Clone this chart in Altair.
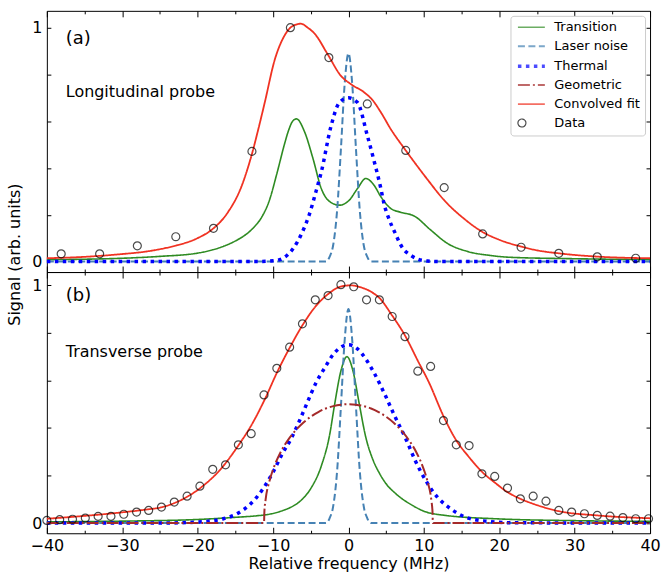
import altair as alt
import pandas as pd

# ---------------- series / styles ----------------
SERIES = ["Transition", "Laser noise", "Thermal", "Geometric", "Convolved fit", "Data"]
COLORS = ["#2e8b22", "#4682b4", "#0000ff", "#a52a2a", "#f03222", "#000000"]
DASHES = [[1, 0], [7, 3.5], [3.5, 4.5], [12, 3, 2, 3], [1, 0], [1, 0]]
WIDTHS = [1.6, 2.0, 3.5, 2.0, 1.8, 1.2]
SHAPES = ["M-1,0H5.75"] * 5 + ["circle"]

X_MAJOR = [-40, -30, -20, -10, 0, 10, 20, 30, 40]
X_MINOR = [-35, -25, -15, -5, 5, 15, 25, 35]
Y_TICKS = [0, 0.2, 0.4, 0.6, 0.8, 1.0]
Y_LABELS = [0, 1]

PANEL_TAGS = ["(a)", "(b)"]
PANEL_NAMES = ["Longitudinal probe", "Transverse probe"]
X_TITLE = "Relative frequency (MHz)"
Y_TITLE = "Signal (arb. units)"

# ---------------- panel (a): longitudinal probe ----------------
TOP_DATA_X = [-38.1, -33.0, -28.0, -22.9, -17.9, -12.8, -7.7, -2.6, 2.5, 7.6,
              12.7, 17.8, 22.9, 27.9, 33.0, 38.1]
TOP_DATA_Y = [0.033, 0.033, 0.067, 0.106, 0.142, 0.471, 1.0, 0.872, 0.674, 0.475,
              0.316, 0.118, 0.061, 0.035, 0.02, 0.014]

TOP_FIT_X = [-40, -35, -30, -27, -24.8, -22.9, -20, -17.9, -16, -14.2, -12.8, -12.0,
             -11.1, -9.8, -8.5, -7.5, -6.3, -5.4, -4.5, -2.75, -1.0, 0.3, 2.1, 3.2,
             4.3, 5.6, 7.6, 9.2, 10.5, 12.7, 15.3, 17.7, 20.0, 22.9, 25, 27.9, 33, 40]
TOP_FIT_Y = [0.014, 0.02, 0.032, 0.042, 0.054, 0.068, 0.1, 0.142, 0.21, 0.32, 0.46, 0.56,
             0.68, 0.86, 0.965, 1.005, 1.017, 1.0, 0.975, 0.886, 0.794, 0.759, 0.723, 0.69,
             0.638, 0.567, 0.475, 0.405, 0.35, 0.262, 0.184, 0.128, 0.093, 0.064, 0.048,
             0.035, 0.021, 0.014]

TOP_TR_X = [-40, -30, -25, -20, -18, -16.5, -14.6, -13.5, -12.5, -11.5, -10.5, -9.5,
            -8.5, -8.0, -7.4, -6.9, -5.8, -4.7, -3.6, -2.3, -1.2, 0.1, 1.2, 2.3, 3.4, 4.3,
            5.6, 6.9, 8.7, 10.9, 13.1, 15.8, 18.8, 21.5, 30, 40]
TOP_TR_Y = [0.008, 0.014, 0.022, 0.036, 0.05, 0.066, 0.095, 0.118, 0.148, 0.19, 0.26, 0.375,
            0.5, 0.555, 0.6, 0.61, 0.553, 0.44, 0.312, 0.252, 0.241, 0.262, 0.312, 0.355,
            0.326, 0.277, 0.227, 0.211, 0.195, 0.135, 0.078, 0.043, 0.026, 0.018, 0.012,
            0.008]

TOP_LN_X = [-40, -3, -2.5, -2, -1.5, -1, -0.5, 0, 0.5, 1, 1.5, 2, 2.5, 3, 40]
TOP_LN_Y = [0, 0, 0.02, 0.075, 0.22, 0.48, 0.76, 0.89, 0.76, 0.48, 0.22, 0.075, 0.02, 0, 0]

TOP_TH_X = [-40, -12, -10, -9.1, -8.1, -7.3, -6.2, -5.2, -4.3, -3.6, -2.3, -1.2, 0, 1.2,
            2.5, 3.4, 4.3, 4.7, 5.4, 6.1, 7.2, 8.3, 9.2, 10.5, 12, 40]
TOP_TH_Y = [0, 0, 0.003, 0.008, 0.028, 0.057, 0.12, 0.2, 0.3, 0.383, 0.58, 0.68, 0.70, 0.68,
            0.539, 0.43, 0.312, 0.25, 0.18, 0.128, 0.057, 0.026, 0.01, 0.002, 0, 0]

# ---------------- panel (b): transverse probe ----------------
BOT_DATA_X = [-40.0, -38.3, -36.6, -34.9, -33.2, -31.5, -29.8, -28.1, -26.5, -24.8,
              -23.1, -21.4, -19.7, -18.0, -16.3, -14.6, -12.9, -11.2, -9.5, -7.8,
              -6.1, -4.4, -2.7, -1.0, 0.7, 2.4, 4.1, 5.8, 7.5, 9.2,
              10.9, 12.6, 14.3, 16.0, 17.7, 19.4, 21.1, 22.8, 24.5, 26.2,
              27.9, 29.6, 31.3, 33.0, 34.7, 36.4, 38.1, 39.8]
BOT_DATA_Y = [0.011, 0.014, 0.016, 0.021, 0.028, 0.028, 0.037, 0.046, 0.053, 0.067,
              0.088, 0.113, 0.155, 0.226, 0.245, 0.329, 0.376, 0.539, 0.651, 0.74,
              0.838, 0.939, 0.957, 1.003, 0.994, 0.939, 0.939, 0.869, 0.784, 0.639,
              0.659, 0.431, 0.329, 0.326, 0.207, 0.196, 0.147, 0.102, 0.113, 0.092,
              0.053, 0.046, 0.039, 0.032, 0.029, 0.023, 0.018, 0.018]

BOT_FIT_X = [-40, -35, -30, -27, -24.7, -22, -19.5, -17, -14.5, -12.9, -11.1, -9.45, -7.8,
             -6.06, -4.4, -2.75, -1.0, 0.3, 1.5, 3.0, 4.1, 5.8, 7.5, 9.15, 10.7, 12.6, 14.2,
             16.0, 17.7, 19.5, 21.1, 22.8, 24.5, 27.9, 33, 40]
BOT_FIT_Y = [0.018, 0.03, 0.045, 0.056, 0.067, 0.1, 0.151, 0.225, 0.331, 0.41, 0.52, 0.635,
             0.737, 0.834, 0.91, 0.962, 0.995, 1.0, 0.993, 0.973, 0.947, 0.873, 0.789, 0.686,
             0.59, 0.45, 0.353, 0.277, 0.216, 0.168, 0.13, 0.102, 0.081, 0.05, 0.032, 0.02]

BOT_TR_X = [-40, -30, -20, -15, -12, -10.7, -8.5, -7.6, -6.3, -5, -3.6, -2.5, -1.88, -1.0,
            -0.2, 0.6, 1.43, 2.3, 3.2, 4.1, 5.0, 6.3, 8.5, 10, 12.9, 19.5, 30, 40]
BOT_TR_Y = [0.005, 0.008, 0.015, 0.024, 0.031, 0.036, 0.055, 0.067, 0.095, 0.145, 0.24, 0.37,
            0.49, 0.64, 0.70, 0.64, 0.502, 0.361, 0.27, 0.21, 0.165, 0.123, 0.074, 0.05,
            0.032, 0.018, 0.01, 0.007]

BOT_LN_X = [-40, -3, -2.5, -2, -1.5, -1, -0.5, 0, 0.5, 1, 1.5, 2, 2.5, 3, 40]
BOT_LN_Y = [0, 0, 0.02, 0.075, 0.22, 0.49, 0.77, 0.90, 0.77, 0.49, 0.22, 0.075, 0.02, 0, 0]

BOT_TH_X = [-40, -25, -20, -18, -16.6, -14.6, -13, -12.2, -11, -10, -8.8, -7.6, -6.5, -5.5,
            -4.3, -3.2, -2, -1, 0, 1.2, 2.3, 3.4, 4.96, 6.06, 7.6, 8.9, 10.25, 11.8, 13.55,
            15.5, 18.2, 22, 40]
BOT_TH_Y = [0, 0, 0.004, 0.01, 0.018, 0.042, 0.08, 0.107, 0.16, 0.214, 0.29, 0.355, 0.43,
            0.504, 0.59, 0.65, 0.71, 0.74, 0.75, 0.733, 0.69, 0.632, 0.532, 0.455, 0.355,
            0.26, 0.179, 0.109, 0.06, 0.025, 0.008, 0.001, 0]

BOT_GE_X = [-40, -11.2, -11.15, -11.0, -10.5, -10, -9, -8, -7, -6, -5, -4, -3, -2, -1, 0,
            1, 2, 3, 4, 5, 6, 7, 8, 9, 10, 10.5, 11.0, 11.15, 11.2, 40]
BOT_GE_Y = [0, 0, 0.047, 0.095, 0.174, 0.225, 0.298, 0.35, 0.39, 0.422, 0.447, 0.467, 0.482,
            0.492, 0.498, 0.5, 0.498, 0.492, 0.482, 0.467, 0.447, 0.422, 0.39, 0.35, 0.298,
            0.225, 0.174, 0.095, 0.047, 0, 0]

TOP_YDOM = [-0.045, 1.072]
BOT_YDOM = [-0.043, 1.056]


def frame(*triples):
    rows = []
    for name, xs, ys in triples:
        for x, y in zip(xs, ys):
            rows.append({"series": name, "x": x, "y": y})
    return pd.DataFrame(rows)


top_lines = frame(("Transition", TOP_TR_X, TOP_TR_Y), ("Laser noise", TOP_LN_X, TOP_LN_Y),
                  ("Thermal", TOP_TH_X, TOP_TH_Y), ("Convolved fit", TOP_FIT_X, TOP_FIT_Y))
top_pts = frame(("Data", TOP_DATA_X, TOP_DATA_Y))
bot_lines = frame(("Transition", BOT_TR_X, BOT_TR_Y), ("Laser noise", BOT_LN_X, BOT_LN_Y),
                  ("Thermal", BOT_TH_X, BOT_TH_Y), ("Geometric", BOT_GE_X, BOT_GE_Y),
                  ("Convolved fit", BOT_FIT_X, BOT_FIT_Y))
bot_pts = frame(("Data", BOT_DATA_X, BOT_DATA_Y))

W, H = 605, 262
FONT = "DejaVu Sans"

LEG = dict(orient="top-right", offset=5, title=None, symbolSize=64, labelOffset=26,
           labelFontSize=13, labelFont=FONT, labelColor="black", rowPadding=5, padding=5,
           cornerRadius=3, strokeColor="#cccccc", fillColor="white")


def tick_axis(orient, values, size):
    off = -H if orient in ("top", "bottom") else -W
    return alt.Axis(orient=orient, values=values, tickSize=size, offset=off, labels=False,
                    domain=False, grid=False, title=None, ticks=True, tickColor="black",
                    tickWidth=1)


def panel(lines_df, pts_df, ydom, idx, legend_on, bottom):
    xsc = alt.Scale(domain=[-40, 40], nice=False, zero=False)
    ysc = alt.Scale(domain=ydom, nice=False, zero=False)

    def leg():
        return alt.Legend(**LEG) if legend_on else None

    color = alt.Color("series:N", scale=alt.Scale(domain=SERIES, range=COLORS), legend=leg())
    dash = alt.StrokeDash("series:N", scale=alt.Scale(domain=SERIES, range=DASHES), legend=leg())
    width = alt.StrokeWidth("series:N", scale=alt.Scale(type="ordinal", domain=SERIES, range=WIDTHS),
                            legend=leg())
    shape = alt.Shape("series:N", scale=alt.Scale(domain=SERIES, range=SHAPES), legend=leg())

    if idx == 0:
        y_lab = alt.Axis(orient="left", values=Y_LABELS, format="d", ticks=False, tickSize=0,
                         domain=False, grid=False, labelPadding=5, title=Y_TITLE,
                         titleX=-24, titleY=244, titleAngle=270, titleBaseline="bottom",
                         titleAlign="center")
    else:
        y_lab = alt.Axis(orient="left", values=Y_LABELS, format="d", ticks=False, tickSize=0,
                         domain=False, grid=False, labelPadding=5, title=None)

    lines = alt.Chart(lines_df).mark_line(interpolate="monotone").encode(
        x=alt.X("x:Q", scale=xsc, axis=tick_axis("top", X_MAJOR, 6)),
        y=alt.Y("y:Q", scale=ysc, axis=y_lab),
        color=color, strokeDash=dash, strokeWidth=width,
    )
    pts = alt.Chart(pts_df).mark_point(filled=False, size=64, strokeWidth=1.2).encode(
        x=alt.X("x:Q", scale=xsc, axis=tick_axis("top", X_MINOR, 3)),
        y=alt.Y("y:Q", scale=ysc, axis=tick_axis("right", Y_TICKS, 4)),
        color=color, shape=shape,
    )
    inv1 = alt.Chart(pts_df).mark_point(opacity=0).encode(
        x=alt.X("x:Q", scale=xsc, axis=tick_axis("bottom", X_MAJOR, 6)),
        y=alt.Y("y:Q", scale=ysc, axis=tick_axis("left", Y_TICKS, 4)),
    )
    inv2 = alt.Chart(pts_df).mark_point(opacity=0).encode(
        x=alt.X("x:Q", scale=xsc, axis=tick_axis("bottom", X_MINOR, 3)),
        y=alt.Y("y:Q", scale=ysc, axis=None),
    )
    layers = [lines, pts, inv1, inv2]
    if bottom:
        inv3 = alt.Chart(pts_df).mark_point(opacity=0).encode(
            x=alt.X("x:Q", scale=xsc,
                    axis=alt.Axis(orient="bottom", values=X_MAJOR, format="d", ticks=False,
                                  tickSize=0, domain=False, grid=False, labelPadding=4,
                                  labelFlush=False, labelOverlap=False,
                                  title=X_TITLE, titlePadding=2)),
            y=alt.Y("y:Q", scale=ysc, axis=None),
        )
        layers.append(inv3)

    tag_df = pd.DataFrame({"t": [PANEL_TAGS[idx]]})
    name_df = pd.DataFrame({"t": [PANEL_NAMES[idx]]})
    tag = alt.Chart(tag_df).mark_text(align="left", baseline="middle", font=FONT,
                                      fontSize=18, color="black").encode(
        text="t:N", x=alt.value(19), y=alt.value(28 if idx == 0 else 24))
    name = alt.Chart(name_df).mark_text(align="left", baseline="middle", font=FONT,
                                        fontSize=16, color="black").encode(
        text="t:N", x=alt.value(19), y=alt.value(81 if idx == 0 else 80))
    layers += [tag, name]

    return alt.layer(*layers).resolve_axis(x="independent", y="independent").properties(
        width=W, height=H)


top = panel(top_lines, top_pts, TOP_YDOM, 0, True, False)
bot = panel(bot_lines, bot_pts, BOT_YDOM, 1, False, True)

chart = alt.vconcat(top, bot, spacing=0, bounds="flush").resolve_scale(
    x="independent", y="independent", color="independent", strokeDash="independent",
    strokeWidth="independent", shape="independent",
).properties(
    padding={"left": 6, "top": 9, "right": 0, "bottom": 0}
).configure_view(stroke="black", strokeWidth=1).configure_axis(
    labelFont=FONT, titleFont=FONT, labelFontSize=16, titleFontSize=16,
    labelColor="black", titleColor="black", titleFontWeight="normal",
)

chart.save("out.html", embed_options={"renderer": "svg", "actions": False})
